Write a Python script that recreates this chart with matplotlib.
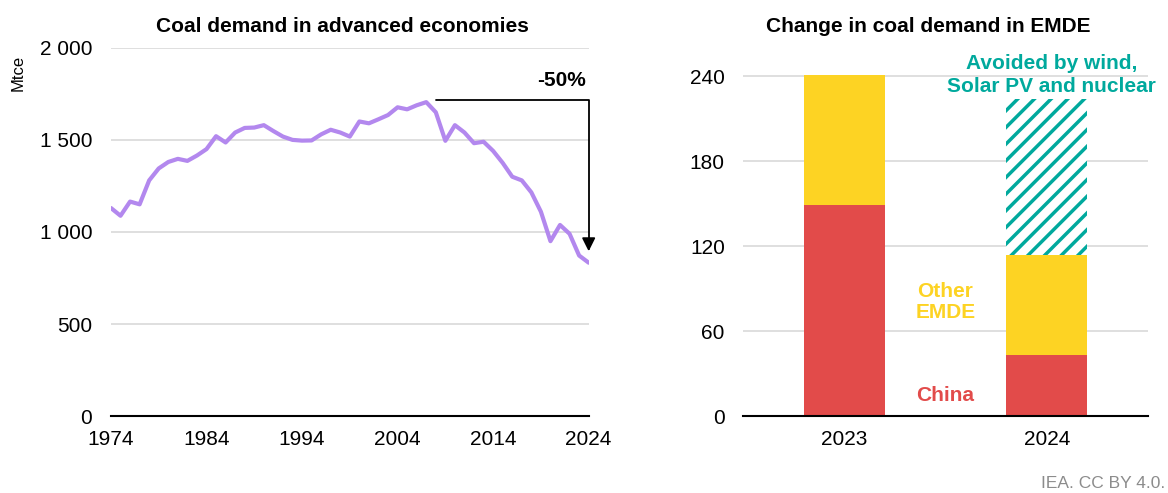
import numpy as np
import matplotlib
matplotlib.use('Agg')
import matplotlib.pyplot as plt
from matplotlib.ticker import FuncFormatter

plt.rcParams['font.family'] = ['Liberation Sans', 'DejaVu Sans']
plt.rcParams['hatch.linewidth'] = 2.5

# data
years = list(range(1974, 2025))
demand = [1130, 1088, 1165, 1150, 1280, 1345, 1380, 1397, 1386, 1415,
          1450, 1520, 1486, 1540, 1565, 1567, 1580, 1548, 1518, 1500,
          1496, 1497, 1530, 1555, 1540, 1518, 1600, 1590, 1612, 1635,
          1677, 1666, 1688, 1705, 1650, 1495, 1580, 1540, 1482, 1490,
          1440, 1375, 1300, 1280, 1215, 1110, 950, 1038, 990, 872, 833]

bar_years = ['2023', '2024']
china = [149, 43]
other_emde = [92, 71]
avoided = [0, 110]

purple = '#B388EE'
red = '#E24B4A'
yellow = '#FDD323'
teal = '#00A99D'
grid = '#D9D9D9'

fig = plt.figure(figsize=(11.68, 4.93), dpi=100)

# left panel
ax1 = fig.add_axes([0.095, 0.156, 0.409, 0.747])
ax1.plot(years, demand, color=purple, lw=3, solid_joinstyle='round', solid_capstyle='round', zorder=3)
ax1.set_xlim(1974, 2024)
ax1.set_ylim(0, 2000)
ax1.set_yticks([0, 500, 1000, 1500, 2000])
ax1.set_xticks([1974, 1984, 1994, 2004, 2014, 2024])
ax1.yaxis.set_major_formatter(FuncFormatter(lambda v, p: f'{int(v):,}'.replace(',', ' ')))
ax1.grid(axis='y', color=grid, lw=1.2)
ax1.set_axisbelow(True)
for s in ['top', 'right', 'left']:
    ax1.spines[s].set_visible(False)
ax1.spines['bottom'].set_linewidth(1.5)
ax1.tick_params(axis='both', length=0, labelsize=15)
ax1.tick_params(axis='y', pad=13.5)
ax1.tick_params(axis='x', pad=10)

ax1.annotate('', xy=(2024, 895), xytext=(2008, 1717),
             arrowprops=dict(arrowstyle='-|>,head_length=0.8,head_width=0.4', color='black', lw=1.3,
                             connectionstyle='angle,angleA=0,angleB=90,rad=0',
                             shrinkA=0, shrinkB=0))
ax1.text(2021.2, 1821, '-50%', fontsize=15, fontweight='bold', ha='center', va='center')

# right panel
ax2 = fig.add_axes([0.636, 0.156, 0.347, 0.747])
x = np.arange(len(bar_years))
ax2.bar(x, china, width=0.4, color=red, zorder=3)
ax2.bar(x, other_emde, width=0.4, bottom=china, color=yellow, zorder=3)
base = [c + o for c, o in zip(china, other_emde)]
ax2.bar(x, avoided, width=0.4, bottom=base, color='white', edgecolor=teal, hatch='//', lw=0, zorder=3)
ax2.set_xlim(-0.5, 1.5)
ax2.set_ylim(0, 260)
ax2.set_yticks([0, 60, 120, 180, 240])
ax2.set_xticks(x)
ax2.set_xticklabels(bar_years)
ax2.grid(axis='y', color=grid, lw=1.2)
ax2.set_axisbelow(True)
for s in ['top', 'right', 'left']:
    ax2.spines[s].set_visible(False)
ax2.spines['bottom'].set_linewidth(1.5)
ax2.spines['bottom'].set_zorder(4)
ax2.tick_params(axis='both', length=0, labelsize=15)
ax2.tick_params(axis='y', pad=13)
ax2.tick_params(axis='x', pad=10)

ax2.text(0.5, 80.8, 'Other\nEMDE', color=yellow, fontsize=15, fontweight='bold', ha='center', va='center', linespacing=1.15)
ax2.text(0.5, 14.8, 'China', color=red, fontsize=15, fontweight='bold', ha='center', va='center')
ax2.text(1.025, 241, 'Avoided by wind,\nSolar PV and nuclear', color=teal, fontsize=15,
         fontweight='bold', ha='center', va='center', linespacing=1.25)

fig.text(18 / 1168, 1 - 72.5 / 493, 'Mtce', fontsize=12, rotation=90, ha='center', va='center')
fig.text(342 / 1168, 1 - 31.7 / 493, 'Coal demand in advanced economies', fontsize=15,
         fontweight='bold', ha='center', va='baseline')
fig.text(928 / 1168, 1 - 31.7 / 493, 'Change in coal demand in EMDE', fontsize=15,
         fontweight='bold', ha='center', va='baseline')
fig.text(1165 / 1168, 1 - 483 / 493, 'IEA. CC BY 4.0.', fontsize=12.5, color='#8C8C8C',
         ha='right', va='center')

fig.savefig('out.png', dpi=100)
